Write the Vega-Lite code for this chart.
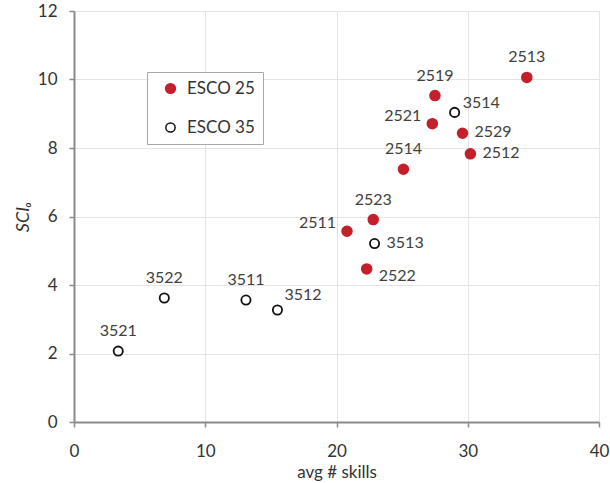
{
  "$schema": "https://vega.github.io/schema/vega-lite/v6.json",
  "width": 525,
  "height": 411,
  "autosize": {"type": "none"},
  "padding": {"left": 74, "top": 11, "right": 11, "bottom": 61},
  "background": "white",
  "config": {
    "view": {"stroke": null},
    "font": "Lato",
    "axis": {
      "domainColor": "#8a8a8a",
      "domainWidth": 2,
      "tickColor": "#8a8a8a",
      "tickWidth": 1.5,
      "tickSize": 5,
      "gridColor": "#e4e4e4",
      "gridWidth": 1,
      "labelFont": "Lato",
      "labelFontSize": 17,
      "labelColor": "#333333",
      "labelFlush": false,
      "labelOverlap": false,
      "titleFont": "Lato",
      "titleFontSize": 17,
      "titleFontWeight": "normal",
      "titleColor": "#333333"
    }
  },
  "data": {
    "values": [
      {"code": "2513", "skills": 34.5, "sci": 10.06, "group": "ESCO 25"},
      {"code": "2519", "skills": 27.5, "sci": 9.53, "group": "ESCO 25"},
      {"code": "2521", "skills": 27.3, "sci": 8.71, "group": "ESCO 25"},
      {"code": "2529", "skills": 29.6, "sci": 8.43, "group": "ESCO 25"},
      {"code": "2512", "skills": 30.2, "sci": 7.83, "group": "ESCO 25"},
      {"code": "2514", "skills": 25.1, "sci": 7.38, "group": "ESCO 25"},
      {"code": "2523", "skills": 22.8, "sci": 5.91, "group": "ESCO 25"},
      {"code": "2511", "skills": 20.8, "sci": 5.57, "group": "ESCO 25"},
      {"code": "2522", "skills": 22.3, "sci": 4.47, "group": "ESCO 25"},
      {"code": "3514", "skills": 29.0, "sci": 9.04, "group": "ESCO 35"},
      {"code": "3513", "skills": 22.9, "sci": 5.21, "group": "ESCO 35"},
      {"code": "3522", "skills": 6.88, "sci": 3.62, "group": "ESCO 35"},
      {"code": "3511", "skills": 13.1, "sci": 3.56, "group": "ESCO 35"},
      {"code": "3512", "skills": 15.5, "sci": 3.27, "group": "ESCO 35"},
      {"code": "3521", "skills": 3.37, "sci": 2.07, "group": "ESCO 35"}
    ]
  },
  "encoding": {
    "x": {
      "field": "skills", "type": "quantitative",
      "scale": {"domain": [0, 40], "nice": false, "zero": true},
      "axis": {"values": [0, 10, 20, 30, 40], "title": "avg # skills", "labelPadding": 16, "titlePadding": 5}
    },
    "y": {
      "field": "sci", "type": "quantitative",
      "scale": {"domain": [0, 12], "nice": false},
      "axis": {"values": [0, 2, 4, 6, 8, 10, 12], "title": "SCIₒ", "titleFontStyle": "italic", "titleFontSize": 18, "labelPadding": 12, "titlePadding": 5}
    }
  },
  "layer": [
    {
      "mark": {"type": "point", "opacity": 1, "strokeWidth": 1.8},
      "encoding": {
        "fill": {
          "field": "group", "type": "nominal",
          "scale": {"domain": ["ESCO 25", "ESCO 35"], "range": ["#c3202b", "#ffffff"]},
          "legend": {
            "title": null, "orient": "none", "legendX": 73, "legendY": 61,
            "strokeColor": "#a8a8a8", "padding": 8, "rowPadding": 21,
            "symbolOffset": 7, "labelFontSize": 17, "labelFont": "Lato", "labelColor": "#333333",
            "labelOffset": 8, "fillColor": "white"
          }
        },
        "stroke": {
          "field": "group", "type": "nominal",
          "scale": {"domain": ["ESCO 25", "ESCO 35"], "range": ["#c3202b", "#111111"]}
        },
        "size": {
          "field": "group", "type": "nominal",
          "scale": {"domain": ["ESCO 25", "ESCO 35"], "range": [95, 85]}
        }
      }
    },
    {
      "transform": [{"filter": {"field": "code", "oneOf": ["2513", "2519", "2514", "2523", "3522", "3511", "3521"]}}],
      "mark": {"type": "text", "dy": -20, "align": "center", "fontSize": 16, "color": "#404040", "font": "Lato"},
      "encoding": {"text": {"field": "code"}}
    },
    {
      "transform": [{"filter": {"field": "code", "oneOf": ["2521", "2511"]}}],
      "mark": {"type": "text", "dx": -11, "dy": -8, "align": "right", "fontSize": 16, "color": "#404040", "font": "Lato"},
      "encoding": {"text": {"field": "code"}}
    },
    {
      "transform": [{"filter": {"field": "code", "oneOf": ["3514"]}}],
      "mark": {"type": "text", "dx": 8, "dy": -9, "align": "left", "fontSize": 16, "color": "#404040", "font": "Lato"},
      "encoding": {"text": {"field": "code"}}
    },
    {
      "transform": [{"filter": {"field": "code", "oneOf": ["3512"]}}],
      "mark": {"type": "text", "dx": 7, "dy": -15, "align": "left", "fontSize": 16, "color": "#404040", "font": "Lato"},
      "encoding": {"text": {"field": "code"}}
    },
    {
      "transform": [{"filter": {"field": "code", "oneOf": ["2529", "2512", "3513"]}}],
      "mark": {"type": "text", "dx": 12, "dy": -1, "align": "left", "fontSize": 16, "color": "#404040", "font": "Lato"},
      "encoding": {"text": {"field": "code"}}
    },
    {
      "transform": [{"filter": {"field": "code", "oneOf": ["2522"]}}],
      "mark": {"type": "text", "dx": 12, "dy": 7, "align": "left", "fontSize": 16, "color": "#404040", "font": "Lato"},
      "encoding": {"text": {"field": "code"}}
    }
  ]
}
